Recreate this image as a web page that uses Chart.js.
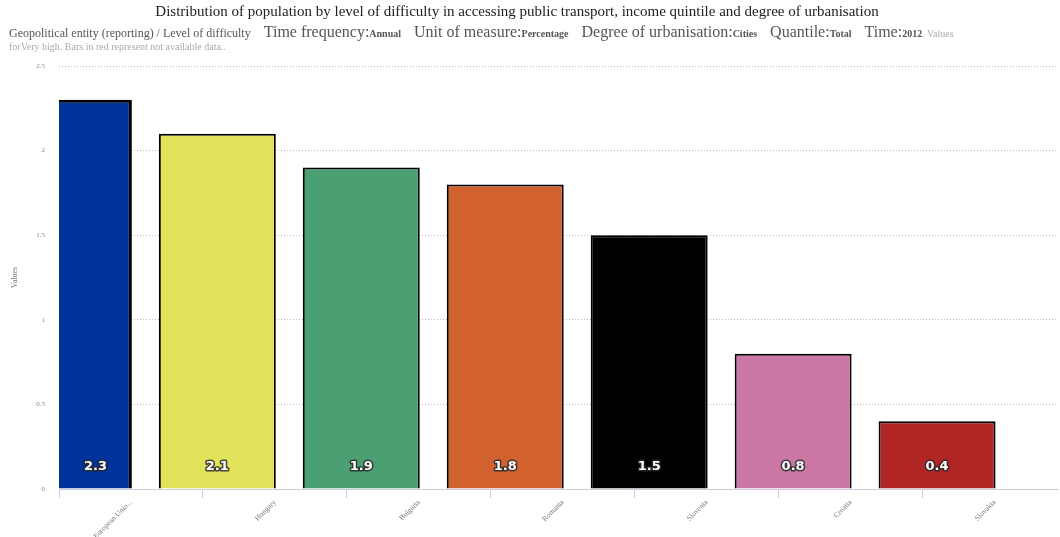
<!DOCTYPE html>
<html>
<head>
<meta charset="utf-8">
<script src="https://cdn.jsdelivr.net/npm/chart.js@4/dist/chart.umd.min.js"></script>
<style>
  html, body { margin: 0; padding: 0; background: #fff; }
  #wrap { position: relative; width: 1060px; height: 537px; }
  #chart { position: absolute; left: 0; top: 0; }
  .hdr { position: absolute; font-family: "Liberation Serif", serif; white-space: nowrap; }
  #title { top: 3px; left: 0; width: 1034px; text-align: center; font-size: 15px; color: #222; }
  #sub { top: 23px; left: 9px; color: #555; line-height: 18px; }
  #sub .s { font-size: 12px; }
  #sub .l { font-size: 16px; margin-left: 9px; }
  #sub .b { font-size: 10px; font-weight: bold; }
  #sub .n { font-size: 10px; color: #aaa; }
  #note { top: 41px; left: 9px; font-size: 10px; color: #aaa; }
</style>
</head>
<body>
<div id="wrap">
  <canvas id="chart" width="1060" height="537"></canvas>
  <div class="hdr" id="title">Distribution of population by level of difficulty in accessing public transport, income quintile and degree of urbanisation</div>
  <div class="hdr" id="sub"><span class="s">Geopolitical entity (reporting) / Level of difficulty</span> <span class="l">Time frequency:</span><span class="b">Annual</span> <span class="l">Unit of measure:</span><span class="b">Percentage</span> <span class="l">Degree of urbanisation:</span><span class="b">Cities</span> <span class="l">Quantile:</span><span class="b">Total</span> <span class="l">Time:</span><span class="b">2012</span><span class="n">. Values</span></div>
  <div class="hdr" id="note">forVery high. Bars in red represent not available data..</div>
</div>
<script>
const countries = ['European Union - 27 countries (2007-2013)', 'Hungary', 'Bulgaria', 'Romania', 'Slovenia', 'Croatia', 'Slovakia']
const values = [2.3, 2.1, 1.9, 1.8, 1.5, 0.8, 0.4]
const barColors = ['#003399', '#e3e35b', '#4a9f73', '#d1612e', '#000000', '#cb77a6', '#b22525']
const barBorders = [3, 2, 2, 2, 2, 2, 2]
const yTicks = [0, 0.5, 1, 1.5, 2, 2.5]

const shortName = s => s.length > 13 ? s.slice(0, 13) + '...' : s

// value labels near the foot of each bar
const valueLabels = {
  id: 'valueLabels',
  afterDatasetsDraw(chart) {
    const { ctx, chartArea } = chart
    const meta = chart.getDatasetMeta(0)
    ctx.save()
    ctx.font = 'bold 13px "DejaVu Sans", sans-serif'
    ctx.textAlign = 'center'
    ctx.textBaseline = 'middle'
    ctx.lineJoin = 'round'
    meta.data.forEach((bar, i) => {
      const left = Math.max(bar.x - bar.width / 2, chartArea.left)
      const right = Math.min(bar.x + bar.width / 2, chartArea.right)
      const x = (left + right) / 2
      const y = bar.base - 22
      const txt = String(values[i])
      ctx.lineWidth = 3
      ctx.strokeStyle = 'rgba(40,40,40,0.85)'
      ctx.strokeText(txt, x, y)
      ctx.fillStyle = '#fff'
      ctx.fillText(txt, x, y)
    })
    ctx.restore()
  }
}

new Chart(document.getElementById('chart'), {
  type: 'bar',
  data: {
    datasets: [{
      data: values.map((v, i) => ({ x: i, y: v })),
      backgroundColor: barColors,
      borderColor: '#000',
      borderWidth: barBorders,
      borderSkipped: 'bottom',
      barPercentage: 0.8125,
      categoryPercentage: 1
    }]
  },
  options: {
    responsive: false,
    animation: false,
    layout: { padding: { top: 66, right: 2, left: 0, bottom: 0 } },
    plugins: {
      legend: { display: false },
      tooltip: { enabled: false }
    },
    scales: {
      x: {
        type: 'linear',
        offset: false,
        min: -0.1,
        max: 6.84,
        afterBuildTicks: scale => {
          scale.ticks = countries.map((c, i) => ({ value: i + 0.4 }))
        },
        afterFit: scale => { scale.height = 48 },
        ticks: {
          autoSkip: false,
          minRotation: 45,
          maxRotation: 45,
          padding: 0,
          color: '#777',
          font: { family: 'Liberation Serif', size: 7.5 },
          callback: (v, i) => shortName(countries[i])
        },
        grid: {
          offset: true,
          drawOnChartArea: false,
          drawTicks: true,
          tickLength: 9,
          color: '#ccccdd'
        },
        border: { display: true, color: '#ccccdd', width: 1 }
      },
      y: {
        min: 0,
        max: 2.5,
        afterBuildTicks: scale => {
          scale.ticks = yTicks.map(v => ({ value: v }))
        },
        afterFit: scale => { scale.width = 59 },
        title: {
          display: true,
          text: 'Values',
          color: '#777',
          font: { family: 'Liberation Serif', size: 8 },
          padding: { top: 10, bottom: 4 }
        },
        ticks: {
          color: '#888',
          padding: 14,
          font: { family: 'Liberation Serif', size: 7 },
          callback: v => String(v)
        },
        grid: {
          color: '#bbbbbb',
          lineWidth: 1,
          drawTicks: false
        },
        border: { display: false, dash: [1, 2] }
      }
    }
  },
  plugins: [valueLabels]
})
</script>
</body>
</html>
